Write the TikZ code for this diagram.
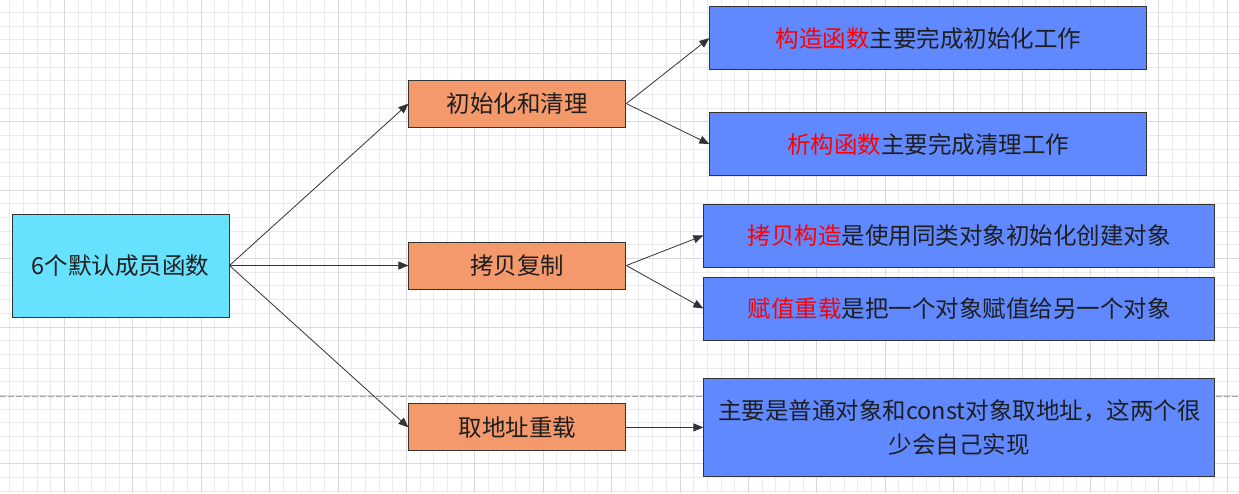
\documentclass[tikz,border=0pt]{standalone}
\usepackage{fontspec}
\newfontfamily\cjk{Noto Sans CJK SC}
\usetikzlibrary{arrows.meta, positioning}

\definecolor{rootfill}{HTML}{66E2FF}
\definecolor{midfill}{HTML}{F4996C}
\definecolor{leaffill}{HTML}{6089FF}
\definecolor{inkdark}{HTML}{1E1E1E}
\definecolor{keyred}{HTML}{FF0000}
\newcommand{\kw}[1]{\textcolor{keyred}{#1}}

\begin{document}
\begin{tikzpicture}[x=1pt, y=-1pt, >={Triangle[length=10pt, width=8pt]},
    box/.style={draw=black!80, line width=0.9pt, align=center, inner sep=2pt,
                text=inkdark, font=\cjk\fontsize{23.5}{34}\selectfont},
    rootbox/.style={box, fill=rootfill, minimum width=217pt, minimum height=103pt},
    midbox/.style={box, fill=midfill, minimum width=217pt, minimum height=47pt},
    leafbox/.style={box, fill=leaffill, minimum height=63pt},
    conn/.style={->, line width=0.8pt, draw=black!80}]
    \useasboundingbox (0,0) rectangle (1239,493);
    % background grid
    \begin{scope}
      \clip (0,0) rectangle (1239,493);
      \fill[white] (0,0) rectangle (1239,493);
      \foreach \i in {0,...,91} \draw[black!8, line width=0.8pt] ({-4.1+13.68*\i},0) -- ++(0,493);
      \foreach \i in {0,...,36} \draw[black!8, line width=0.8pt] (0,{-1.42+13.68*\i}) -- ++(1239,0);
      \foreach \i in {0,...,18} \draw[black!15, line width=0.8pt] ({-4.1+68.4*\i},0) -- ++(0,493);
      \foreach \i in {0,...,7} \draw[black!15, line width=0.8pt] (0,{-15.1+68.4*\i}) -- ++(1239,0);
      \draw[black!35, line width=0.8pt, dash pattern=on 6pt off 2pt] (0,396) -- (1239,396);
    \end{scope}

    \node[rootbox] (root) at (120.5,265.5) {6个默认成员函数};
    \node[midbox, right=179pt of root] (copy) {拷贝复制};
    \node[midbox, above=114pt of copy] (init) {初始化和清理};
    \node[midbox, below=114pt of copy] (addr) {取地址重载};

    \node[leafbox, minimum width=437pt, right=83pt of init, yshift=65.5pt] (ctor)
      {\kw{构造函数}主要完成初始化工作};
    \node[leafbox, minimum width=437pt, right=83pt of init, yshift=-40.5pt] (dtor)
      {\kw{析构函数}主要完成清理工作};
    \node[leafbox, minimum width=511pt, right=77pt of copy, yshift=30pt] (cctor)
      {\kw{拷贝构造}是使用同类对象初始化创建对象};
    \node[leafbox, minimum width=511pt, right=77pt of copy, yshift=-43pt] (assign)
      {\kw{赋值重载}是把一个对象赋值给另一个对象};
    \node[leafbox, minimum width=511pt, minimum height=98pt, right=77pt of addr] (addrop)
      {主要是普通对象和const对象取地址，这两个很\\少会自己实现};

    \draw[conn] (root.east) -- (init.west);
    \draw[conn] (root.east) -- (copy.west);
    \draw[conn] (root.east) -- (addr.west);
    \draw[conn] (init.east) -- (ctor.west);
    \draw[conn] (init.east) -- (dtor.west);
    \draw[conn] (copy.east) -- (cctor.west);
    \draw[conn] (copy.east) -- (assign.west);
    \draw[conn] (addr.east) -- (addrop.west);
\end{tikzpicture}
\end{document}
